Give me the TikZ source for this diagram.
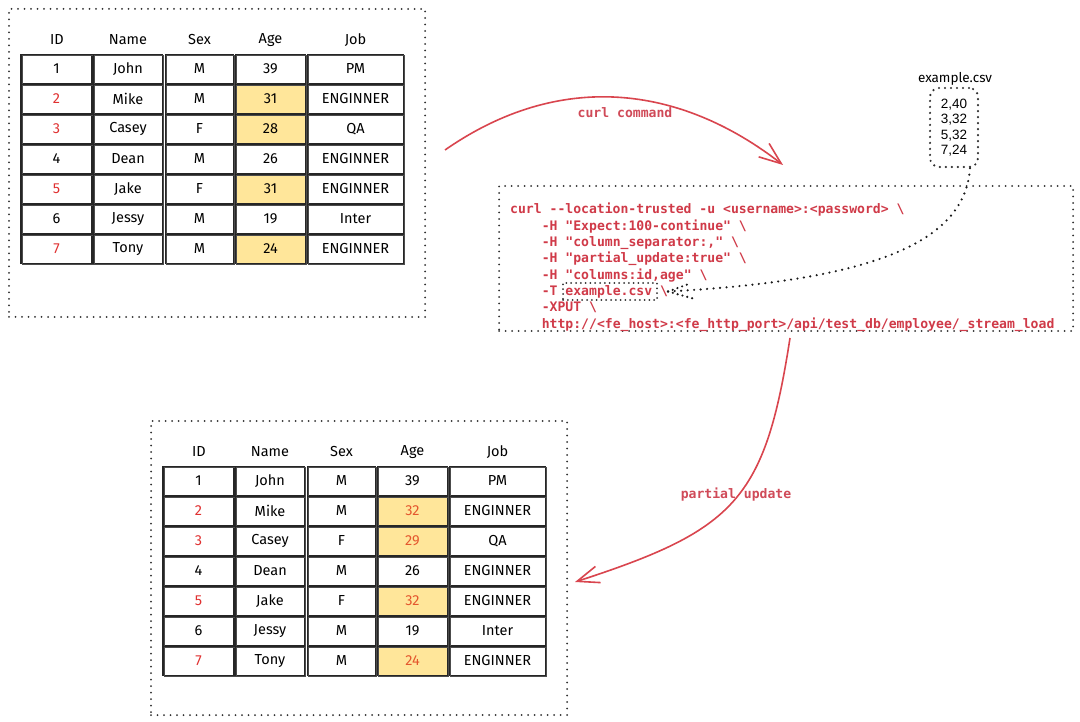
\documentclass[tikz,border=0pt]{standalone}
\usepackage{fontspec}
\setmainfont{Fira Sans}
\setmonofont{DejaVu Sans Mono}
\newfontfamily\csvfont{Liberation Sans}
\usetikzlibrary{arrows.meta}
\definecolor{codered}{HTML}{D03A48}
\definecolor{lblred}{HTML}{D04A58}
\definecolor{arrred}{HTML}{D9454E}
\definecolor{idred}{HTML}{E03131}
\definecolor{agered}{HTML}{E4572E}
\definecolor{hlyellow}{HTML}{FFE69A}
\definecolor{dotgray}{HTML}{303030}
\newcommand{\drawtable}[4]{%
  \foreach \h/\cx in {ID/36,Name/107,Sex/178.5,Age/249.5,Job/334.5}
    \node[hdr] (#1-h-\h) at (#2+\cx,#3-14) {\h};
  \foreach \r/\nm/\sx/\ag/\jb/\hl in {#4} {
    \ifnum\hl=0 \def\idc{black}\def\agf{white}\def\agc{black}%
    \else\def\idc{idred}\def\agf{hlyellow}%
      \ifnum\hl=2 \def\agc{agered}\else\def\agc{black}\fi\fi
    \node[cell,minimum width=71pt,text=\idc] (#1-\r-1) at (#2+35.5,#3+15+30*\r-30) {\r};
    \node[cell,minimum width=69pt] (#1-\r-2) at (#2+107,#3+15+30*\r-30) {\nm};
    \node[cell,minimum width=68pt] (#1-\r-3) at (#2+178.5,#3+15+30*\r-30) {\sx};
    \node[cell,minimum width=70pt,fill=\agf,text=\agc] (#1-\r-4) at (#2+249.5,#3+15+30*\r-30) {\ag};
    \node[cell,minimum width=96pt] (#1-\r-5) at (#2+334.5,#3+15+30*\r-30) {\jb};
  }%
}
\begin{document}
\begin{tikzpicture}[x=1pt,y=-1pt,
  dotframe/.style={draw=dotgray,line width=2pt,dash pattern=on 0pt off 6.5pt,line cap=round},
  dotline/.style={draw=black!90,line width=2.4pt,dash pattern=on 0pt off 6.5pt,line cap=round},
  cell/.style={draw=black!85,line width=1.3pt,minimum height=29pt,inner sep=0pt,
    font=\fontsize{14.5}{17}\selectfont,
    postaction={draw=black!70,line width=0.6pt,transform canvas={shift={(0.9pt,-0.9pt)}}}},
  hdr/.style={font=\fontsize{14.5}{17}\selectfont,inner sep=0pt},
  code/.style={font=\ttfamily\bfseries\fontsize{13.1}{16.3}\selectfont,text=codered,inner sep=0pt,anchor=base west},
  lbl/.style={font=\ttfamily\bfseries\fontsize{13.1}{16.3}\selectfont,text=lblred,inner sep=0pt},
  redarrow/.style={draw=arrred,line width=1.6pt,-{Straight Barb[length=22pt,width=17pt,line width=1.6pt]}}
]
\useasboundingbox[fill=white] (0,0) rectangle (1080,722);

% frames
\node[dotframe,minimum width=416pt,minimum height=308pt,anchor=north west,inner sep=0pt] (frameA) at (8,8) {};
\node[dotframe,minimum width=416pt,minimum height=294pt,anchor=north west,inner sep=0pt] (frameB) at (150,420) {};
\node[dotframe,minimum width=574pt,minimum height=145pt,anchor=north west,inner sep=0pt] (curlbox) at (498,185) {};

% tables
\drawtable{A}{21}{54}{1/John/M/39/PM/0,2/Mike/M/31/ENGINNER/1,3/Casey/F/28/QA/1,4/Dean/M/26/ENGINNER/0,5/Jake/F/31/ENGINNER/1,6/Jessy/M/19/Inter/0,7/Tony/M/24/ENGINNER/1}
\drawtable{B}{163}{466}{1/John/M/39/PM/0,2/Mike/M/32/ENGINNER/2,3/Casey/F/29/QA/2,4/Dean/M/26/ENGINNER/0,5/Jake/F/32/ENGINNER/2,6/Jessy/M/19/Inter/0,7/Tony/M/24/ENGINNER/2}

% code
\node[code] (l0) at (510,214) {curl -{}-location-trusted -u <username>:<password> \textbackslash};
\node[code] (l1) at (541.6,230.3) {-H "Expect:100-continue" \textbackslash};
\node[code] (l2) at (541.6,246.6) {-H "column\_separator:," \textbackslash};
\node[code] (l3) at (541.6,262.9) {-H "partial\_update:true" \textbackslash};
\node[code] (l4) at (541.6,279.2) {-H "columns:id,age" \textbackslash};
\node[code] (l5) at (541.6,295.5) {-T example.csv \textbackslash};
\node[code] (l6) at (541.6,311.8) {-XPUT \textbackslash};
\node[code] (l7) at (541.6,328.1) {http://<fe\_host>:<fe\_http\_port>/api/test\_db/employee/\_stream\_load};
\node[dotframe,line width=2pt,dash pattern=on 0pt off 4.8pt,minimum width=94pt,minimum height=17pt,inner sep=0pt] (csvref) at (610,291.5) {};

% example.csv
\node[font=\fontsize{13.5}{15}\selectfont,inner sep=0pt] (csvlabel) at (955,79) {example.csv};
\node[dotframe,line width=2.4pt,dash pattern=on 0pt off 6pt,rounded corners=9pt,minimum width=48pt,minimum height=79pt,
  inner sep=0pt,align=center,font=\csvfont\fontsize{13.5}{15.4}\selectfont] (csvbox) at (954,127.5) {2,40\\3,32\\5,32\\7,24};

% dotted arrow
\coordinate (dtip) at ([xshift=10pt]csvref.east);
\draw[dotline] ([xshift=16pt]csvbox.south) .. controls (965,240) and (880,280) .. (dtip);
\draw[dotline,dash pattern=on 0pt off 5pt] (dtip) -- ++(22,-8);
\draw[dotline,dash pattern=on 0pt off 5pt] (dtip) -- ++(25,7);

% curl command arrow
\coordinate (c1s) at (445,150);
\coordinate (c1e) at (783,165);
\draw[redarrow] (c1s) .. controls (560,70) and (680,85) .. (c1e);
\node[lbl] (clbl) at (625,113) {curl command};

% partial update arrow
\coordinate (p1s) at (790,338);
\coordinate (p1e) at (575,582);
\draw[redarrow] (p1s) .. controls (765,500) and (735,530) .. (p1e);
\node[lbl] (plbl) at (736,495) {partial update};
\end{tikzpicture}
\end{document}
